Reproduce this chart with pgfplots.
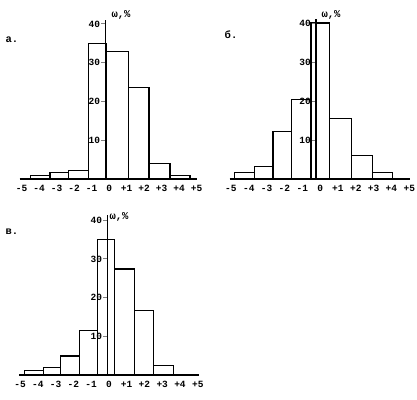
\documentclass[border=0pt]{standalone}
\usepackage{fontspec}
\setmainfont{Liberation Mono}
\usepackage{pgfplots}
\pgfplotsset{compat=1.18}
\pgfplotsset{
  hist/.style={
    scale only axis,
    axis on top,
    axis x line=bottom,
    axis y line=center,
    axis line style={-, line width=1.1pt},
    ymin=0,
    ytick={10,20,30,40},
    yticklabels={10,20,30,40},
    tick align=outside,
    major tick length=4pt,
    xtick style={draw=none},
    ytick style={line width=1pt},
    x tick label as interval=false,
    xticklabels={-5,-4,-3,-2,-1,0,+1,+2,+3,+4,+5},
    tick label style={font=\fontsize{9.5}{10}\selectfont\bfseries},
    yticklabel style={inner sep=1pt},
    xticklabel style={inner sep=2pt},
    clip=false,
  },
  bars/.style={ybar interval, draw=black, fill=none, line width=1.1pt},
}
\begin{document}
\begin{tikzpicture}
\useasboundingbox (0,0) rectangle (417pt,-399pt);
% panel a
\begin{axis}[hist, at={(105.3pt,-179pt)}, anchor=origin,
  xmin=-4.9, xmax=5.25, ymax=41,
  width=177.6pt, height=158.9pt,
  xtick={-4.78,-3.78,-2.78,-1.78,-0.78,0.22,1.22,2.22,3.22,4.22,5.22}]
\addplot[bars] coordinates {(-4.30,1.0) (-3.16,1.7) (-2.11,2.3) (-0.97,35) (0.05,32.9) (1.32,23.6) (2.50,4.0) (3.70,0.8) (4.84,0.8)};
\end{axis}
% panel b
\begin{axis}[hist, at={(316pt,-179pt)}, anchor=origin,
  xmin=-4.85, xmax=5.25, ymax=41,
  width=180.1pt, height=159.9pt,
  xtick={-4.77,-3.77,-2.77,-1.77,-0.77,0.23,1.23,2.23,3.23,4.23,5.23}]
\addplot[bars] coordinates {(-4.55,1.6) (-3.43,3.2) (-2.41,12.1) (-1.37,20.3) (-0.28,40) (0.78,15.6) (2.00,6.1) (3.16,1.7) (4.28,1.7)};
\end{axis}
% panel v
\begin{axis}[hist, at={(107.3pt,-375pt)}, anchor=origin,
  xmin=-4.95, xmax=5.15, ymax=41.3,
  width=179.5pt, height=159.8pt,
  xtick={-4.91,-3.91,-2.91,-1.91,-0.91,0.09,1.09,2.09,3.09,4.09,5.09}]
\addplot[bars] coordinates {(-4.64,1.1) (-3.61,2.0) (-2.61,4.9) (-1.58,11.4) (-0.55,35.1) (0.43,27.4) (1.55,16.6) (2.62,2.4) (3.71,2.4)};
\end{axis}
\node[font=\fontsize{10.5}{11}\selectfont\bfseries] at (12pt,-40pt) {а.};
\node[font=\fontsize{10.5}{11}\selectfont\bfseries] at (231pt,-35pt) {б.};
\node[font=\fontsize{10.5}{11}\selectfont\bfseries] at (12pt,-232pt) {в.};
\node[font=\fontsize{10.5}{11}\selectfont\bfseries] at (121pt,-15pt) {ω,\%};
\node[font=\fontsize{10.5}{11}\selectfont\bfseries] at (331pt,-15pt) {ω,\%};
\node[font=\fontsize{10.5}{11}\selectfont\bfseries] at (119pt,-217pt) {ω,\%};
\end{tikzpicture}
\end{document}
